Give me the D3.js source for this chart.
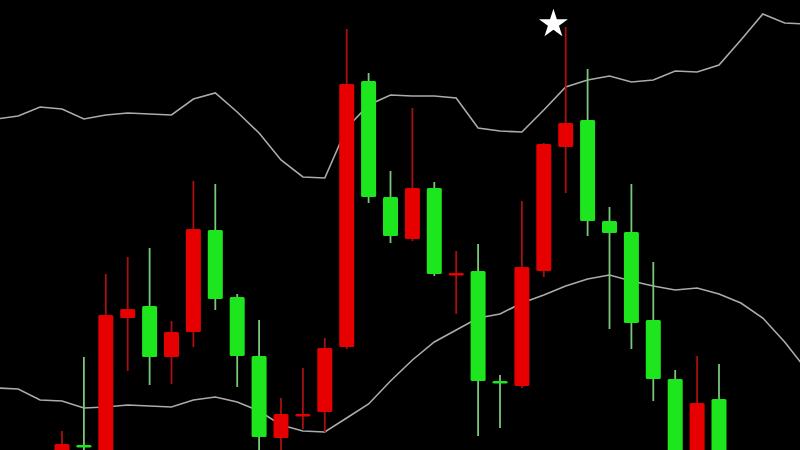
<!DOCTYPE html>
<html>
<head>
<meta charset="utf-8">
<script src="https://cdn.jsdelivr.net/npm/d3@7"></script>
<style>
  html, body { margin: 0; padding: 0; background: #000; }
  svg { display: block; }
</style>
</head>
<body>
<div id="chart"></div>
<script>
// candle data: open, high, low, close (one per session)
const opens  = [100.6, 100.3, 113.5, 114.1, 109.3, 111.8, 122.1, 115.1, 109.4, 101.3,
                103.6, 103.6, 110.2, 136.6, 125.3, 121.4, 126.2, 117.6, 117.7, 106.9,
                106.7, 118.3, 130.6, 132.7, 122.9, 121.7, 112.7, 107.1, 98.0, 104.7, 98.0];
const highs  = [101.9, 109.3, 117.6, 119.3, 120.2, 112.9, 126.9, 126.6, 115.6, 113.0,
                105.2, 108.2, 111.2, 142.1, 137.7, 127.9, 134.2, 126.8, 119.9, 120.6,
                107.5, 124.9, 130.7, 142.3, 138.1, 124.3, 126.6, 118.8, 108.0, 109.4, 108.6];
const lows   = [98.0, 98.0, 97.5, 107.9, 106.5, 106.6, 110.3, 114.0, 106.3, 98.0,
                98.0, 102.1, 101.8, 110.1, 124.7, 120.7, 120.9, 117.4, 113.6, 101.4,
                102.2, 106.2, 117.3, 125.7, 121.4, 112.1, 110.1, 104.9, 97.5, 97.5, 97.5];
const closes = [98.5, 100.5, 98.0, 113.2, 114.4, 109.3, 111.8, 122.0, 115.3, 109.4,
                101.2, 103.4, 103.8, 110.3, 136.9, 125.3, 121.1, 126.2, 117.5, 117.9,
                106.9, 106.4, 117.9, 130.3, 133.0, 122.9, 121.8, 113.0, 107.1, 98.0, 105.1];

// bollinger-style bands, indices -3 .. 34
const bandStart = -3;
const upperBand = [133.1, 133.4, 134.3, 134.1, 133.1, 133.5, 133.7, 133.6, 133.5, 135.1,
                   135.7, 133.8, 131.7, 129.0, 127.3, 127.2, 132.2, 134.5, 135.5, 135.4,
                   135.4, 135.2, 132.2, 131.9, 131.8, 134.0, 136.3, 137.0, 137.4, 136.8,
                   137.0, 137.9, 137.8, 138.5, 141.0, 143.6, 142.7, 142.6];
const lowerBand = [106.2, 106.1, 105.0, 104.9, 104.2, 104.3, 104.5, 104.4, 104.3, 105.0,
                   105.3, 104.8, 103.9, 102.5, 101.9, 101.8, 103.2, 104.6, 106.9, 109.0,
                   110.8, 112.0, 113.2, 113.6, 114.7, 115.5, 116.4, 117.1, 117.5, 116.9,
                   116.4, 116.0, 116.2, 115.6, 114.7, 113.2, 110.8, 108.0];

// star marker
const starIndex = 22.44;
const starPrice = 142.6;

const width = 800;
const height = 450;

const candles = opens.map((o, i) => ({
    i: i, open: o, high: highs[i], low: lows[i], close: closes[i]
}));

const svg = d3.select("#chart")
    .append("svg")
    .attr("width", width)
    .attr("height", height);

svg.append("rect")
    .attr("width", width)
    .attr("height", height)
    .attr("fill", "#000");

const x = d3.scaleLinear()
    .domain([0, opens.length - 1])
    .range([62, 719]);

const y = d3.scaleLinear()
    .domain([100, 145])
    .range([height, 0]);

const bodyWidth = 15;

// bands
const line = d3.line()
    .x((d, k) => x(bandStart + k))
    .y(d => y(d));

[upperBand, lowerBand].forEach(band => {
    svg.append("path")
        .datum(band)
        .attr("fill", "none")
        .attr("stroke", "#ababab")
        .attr("stroke-width", 1.6)
        .attr("d", line);
});

// wicks
svg.selectAll(".wick")
    .data(candles)
    .enter()
    .append("line")
    .attr("class", "wick")
    .attr("x1", d => x(d.i))
    .attr("x2", d => x(d.i))
    .attr("y1", d => y(d.high))
    .attr("y2", d => y(d.low))
    .attr("stroke", d => d.close < d.open ? "#a81010" : "#78c878")
    .attr("stroke-width", 1.8);

// bodies
svg.selectAll(".body")
    .data(candles)
    .enter()
    .append("rect")
    .attr("class", "body")
    .attr("x", d => x(d.i) - bodyWidth / 2)
    .attr("y", d => y(Math.max(d.open, d.close)))
    .attr("width", bodyWidth)
    .attr("height", d => Math.max(2.5, Math.abs(y(d.open) - y(d.close))))
    .attr("rx", 1.5)
    .attr("fill", d => d.close < d.open ? "#e60000" : "#1ee61e");

// star
svg.append("path")
    .attr("d", d3.symbol(d3.symbolStar).size(260)())
    .attr("transform", `translate(${x(starIndex)},${y(starPrice)})`)
    .attr("fill", "#fff");
</script>
</body>
</html>
